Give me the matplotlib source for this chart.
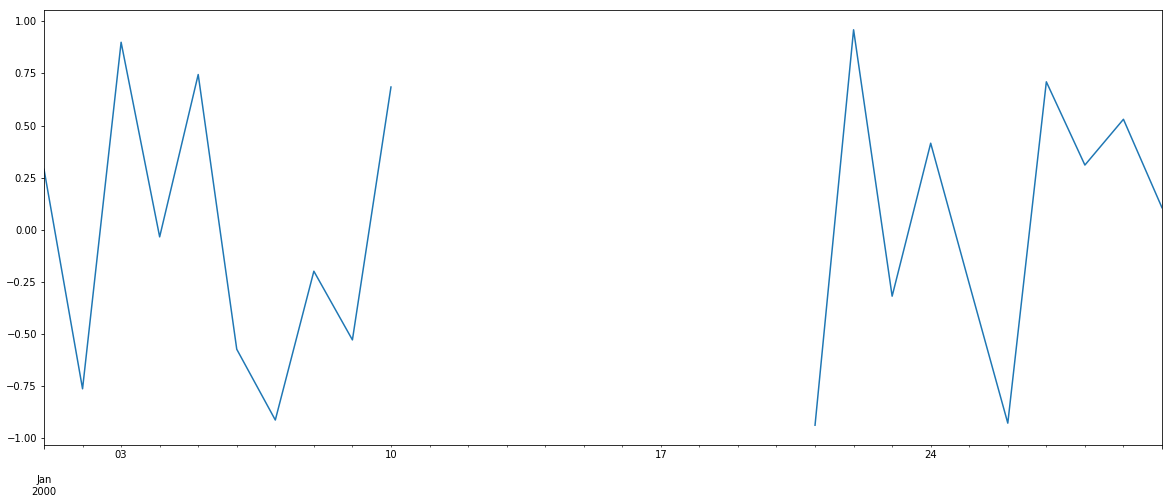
import numpy as np
import pandas as pd
import matplotlib
matplotlib.use("Agg")
import matplotlib.pyplot as plt

dates = pd.date_range("2000-01-01", periods=30, freq="D")
values = [0.29, -0.765, 0.90, -0.035, 0.745, -0.575, -0.915, -0.20, -0.53, 0.685,
          np.nan, np.nan, np.nan, np.nan, np.nan, np.nan, np.nan, np.nan, np.nan, np.nan,
          -0.94, 0.96, -0.32, 0.415, -0.26, -0.93, 0.71, 0.31, 0.53, 0.105]

s = pd.Series(values, index=dates)

fig = plt.figure(figsize=(1171 / 72, 504 / 72), dpi=72)
ax = fig.add_axes([44 / 1171, 59 / 504, 1118 / 1171, 435 / 504])
s.plot(ax=ax, color="#1f77b4")

fig.savefig("out.png", dpi=72)
